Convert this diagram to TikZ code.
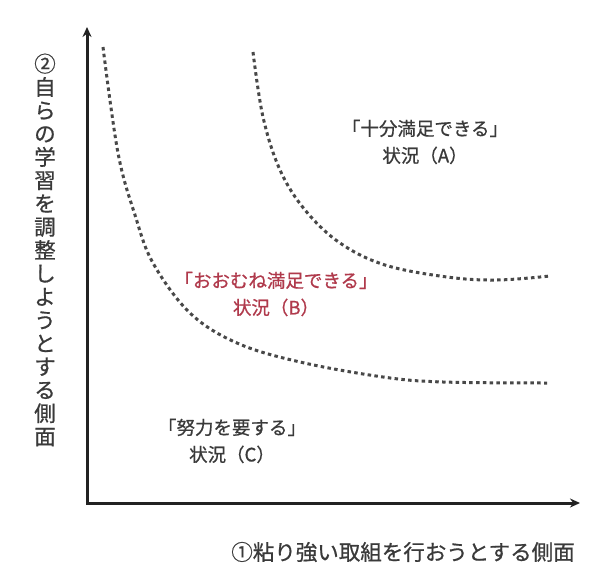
\documentclass[tikz,border=0pt]{standalone}
\usepackage{fontspec}
\setmainfont{Noto Sans CJK JP}[FakeBold=0.7]
\usetikzlibrary{arrows.meta}
\definecolor{txtgray}{HTML}{3A3A3A}
\definecolor{txtred}{HTML}{B03A4C}
\definecolor{curvegray}{HTML}{484848}
\definecolor{axisgray}{HTML}{222222}
\tikzset{
  axisline/.style={draw=axisgray, line width=3pt, line join=miter, {Stealth[length=10pt,width=9pt]}-{Stealth[length=10pt,width=9pt]}},
  bound/.style={draw=curvegray, line width=3pt, dash pattern=on 3.5pt off 3.3pt},
  lbl/.style={text=txtgray, font=\fontsize{18.5}{27}\selectfont, align=center, inner sep=0pt},
  redlbl/.style={lbl, text=txtred},
  axlbl/.style={text=txtgray, font=\fontsize{21.5}{23.3}\selectfont, align=center, inner sep=0pt}
}
\begin{document}
\begin{tikzpicture}[x=1pt,y=-1pt]
\useasboundingbox[fill=white] (0,0) rectangle (605,581);
\coordinate (Y) at (87,27);
\coordinate (X) at (580,503);
\draw[axisline] (Y) |- (X);
\draw[bound] plot[smooth, tension=0.6] coordinates {(253,52) (263,117) (280,170) (305,210) (340,243) (385,265) (447,277) (497,280) (550,276)};
\draw[bound] plot[smooth, tension=0.6] coordinates {(103,47) (118,153) (135,215) (153,263) (190,313) (237,343) (300,362) (383,377) (443,382) (547,383)};
\node[lbl] (A) at (425,142) {「十分満足できる」\\状況（A）};
\node[redlbl] (B) at (276,294) {「おおむね満足できる」\\状況（B）};
\node[lbl] (C) at (232,441) {「努力を要する」\\状況（C）};
\node[axlbl, anchor=center] (xl) at (403,552) {①粘り強い取組を行おうとする側面};
\node[axlbl] (yl) at (45,250) {②\\自\\ら\\の\\学\\習\\を\\調\\整\\し\\よ\\う\\と\\す\\る\\側\\面};
\end{tikzpicture}
\end{document}
